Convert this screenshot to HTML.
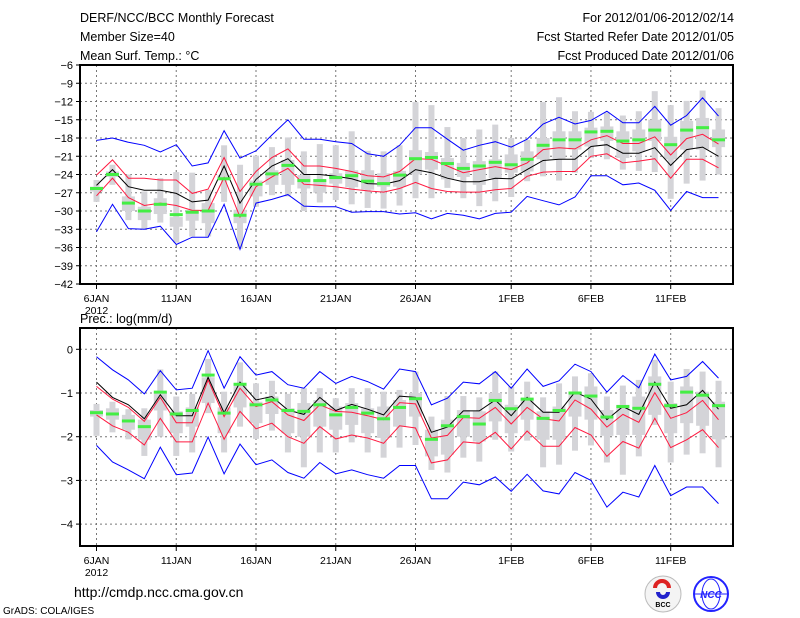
<!DOCTYPE html>
<html><head><meta charset="utf-8">
<style>
html,body{margin:0;padding:0;background:#fff;}
#wrap{position:relative;width:800px;height:618px;overflow:hidden;}
svg text{font-family:"Liberation Sans",sans-serif;}
</style></head>
<body>
<div id="wrap">
<svg id="svg" width="800" height="618" viewBox="0 0 800 618" xmlns="http://www.w3.org/2000/svg">
  <g font-size="12.5" fill="#000">
    <text x="80" y="22">DERF/NCC/BCC Monthly Forecast</text>
    <text x="80" y="41">Member Size=40</text>
    <text x="80" y="60">Mean Surf. Temp.: °C</text>
    <text x="734" y="22" text-anchor="end">For 2012/01/06-2012/02/14</text>
    <text x="734" y="41" text-anchor="end">Fcst Started Refer Date 2012/01/05</text>
    <text x="734" y="60" text-anchor="end">Fcst Produced Date 2012/01/06</text>
  </g>
  <text x="80" y="323" font-size="12.5">Prec.: log(mm/d)</text>
  <g id="top"></g>
  <g id="bot"></g>
  <text x="74" y="597" font-size="14">http://cmdp.ncc.cma.gov.cn</text>
  <text x="3" y="614" font-size="10">GrADS: COLA/IGES</text>
  <g>
    <circle cx="663" cy="594" r="18" fill="#f4f4f4" stroke="#bbb"/>
    <path d="M655 588 a7 7 0 1 1 14 0" fill="none" stroke="#d22" stroke-width="4"/>
    <path d="M658 592 a5 5 0 1 0 10 0" fill="none" stroke="#22c" stroke-width="4"/>
    <text x="663" y="607" font-size="7" text-anchor="middle" font-weight="bold">BCC</text>
  </g>
  <g>
    <circle cx="711" cy="594" r="17" fill="#fff" stroke="#22f" stroke-width="2"/>
    <ellipse cx="711" cy="594" rx="9" ry="15" fill="none" stroke="#22f"/>
    <line x1="695" y1="594" x2="727" y2="594" stroke="#22f"/>
    <text x="711" y="598" font-size="10" text-anchor="middle" fill="#22f" font-weight="bold" font-style="italic">NCC</text>
  </g>
</svg>
</div>
<script>
// ---- Temperature panel data (°C) ----
const days = ["6JAN","","","","","11JAN","","","","","16JAN","","","","","21JAN","","","","","26JAN","","","","","","1FEB","","","","","6FEB","","","","","11FEB","","",""];
const tTicks = [-6,-9,-12,-15,-18,-21,-24,-27,-30,-33,-36,-39,-42];
const tBlueHi = [-18.4,-18.0,-18.7,-19.2,-20.3,-19.1,-22.6,-22.1,-16.8,-21.3,-20.1,-17.5,-15.0,-18.2,-18.2,-18.6,-18.9,-20.6,-21.0,-19.2,-16.3,-16.3,-18.2,-20.0,-19.2,-18.6,-19.5,-18.2,-15.7,-14.6,-15.7,-15.1,-13.6,-15.5,-15.5,-12.8,-15.9,-14.3,-11.4,-14.4];
const tRedHi = [-24.1,-21.6,-24.6,-24.6,-24.9,-24.9,-27.1,-26.4,-21.2,-26.8,-23.5,-21.2,-19.8,-22.6,-22.6,-23.0,-23.5,-24.2,-24.4,-23.5,-21.4,-21.5,-22.6,-23.7,-23.2,-22.7,-23.2,-22.1,-19.9,-19.6,-19.8,-18.3,-17.6,-18.9,-18.9,-17.8,-20.8,-18.1,-17.4,-19.0];
const tMean = [-25.8,-23.2,-26.0,-26.6,-26.6,-27.1,-28.5,-28.2,-22.6,-28.7,-24.8,-22.6,-21.4,-24.0,-24.0,-24.3,-24.7,-25.5,-25.6,-25.0,-23.2,-23.7,-24.6,-25.2,-25.2,-24.6,-24.7,-23.2,-21.7,-21.5,-21.5,-19.4,-19.1,-20.5,-20.5,-19.6,-22.5,-19.9,-19.5,-21.0];
const tRedLo = [-27.5,-24.6,-27.8,-29.1,-28.7,-29.1,-29.9,-29.9,-24.5,-31.0,-26.0,-24.4,-23.0,-25.6,-25.8,-26.0,-26.4,-26.7,-26.9,-26.3,-25.3,-26.3,-26.8,-26.9,-26.9,-26.5,-26.3,-24.3,-23.6,-23.5,-23.5,-21.0,-20.6,-22.1,-21.8,-21.4,-24.6,-21.5,-21.5,-22.9];
const tBlueLo = [-33.4,-28.9,-32.9,-33.0,-32.5,-35.5,-34.3,-34.3,-28.9,-36.3,-28.7,-28.1,-27.3,-29.2,-29.3,-29.3,-30.2,-30.1,-30.1,-30.5,-30.3,-31.3,-30.4,-30.7,-31.3,-30.4,-30.2,-27.6,-28.3,-29.0,-27.7,-24.2,-24.2,-25.7,-25.4,-26.6,-29.9,-26.8,-27.8,-27.8];
const tObs = [-26.3,-24.0,-28.7,-30.0,-28.9,-30.6,-30.2,-30.0,-24.7,-30.7,-25.6,-23.9,-22.5,-25.0,-25.0,-24.5,-24.2,-25.1,-25.5,-24.1,-21.4,-21.2,-22.2,-23.0,-22.6,-22.0,-22.4,-21.5,-19.2,-18.3,-18.3,-17.0,-16.9,-18.5,-18.3,-16.7,-19.1,-16.7,-16.3,-18.3];
const tMax = [-24.9,-22.4,-24.0,-26.8,-24.6,-23.6,-23.7,-26.5,-19.2,-22.4,-20.9,-19.5,-17.9,-20.2,-19.0,-19.2,-16.9,-20.1,-20.2,-19.2,-12.1,-12.6,-16.2,-18.0,-16.6,-15.8,-18.0,-18.3,-12.1,-11.3,-13.6,-13.7,-13.8,-14.3,-13.6,-10.3,-12.6,-11.9,-10.2,-13.1];
const tMin = [-28.5,-25.7,-31.5,-33.0,-31.9,-35.2,-34.2,-34.2,-28.5,-36.2,-29.3,-27.4,-27.6,-30.0,-28.6,-28.2,-28.9,-29.5,-29.6,-29.1,-27.9,-27.9,-26.2,-27.9,-29.2,-28.4,-27.7,-25.1,-24.3,-25.0,-23.7,-21.3,-21.5,-23.2,-23.4,-23.6,-28.0,-25.5,-25.0,-24.0];
const tQ3 = [-26.0,-23.5,-27.6,-29.3,-27.9,-31.0,-29.8,-28.7,-24.1,-29.8,-25.0,-23.3,-21.6,-24.1,-24.9,-23.8,-23.3,-23.3,-23.8,-23.4,-20.0,-20.3,-21.3,-22.1,-21.8,-21.5,-20.7,-20.2,-18.0,-16.9,-16.9,-16.3,-16.1,-16.9,-16.6,-15.0,-17.8,-15.2,-14.7,-16.6];
const tQ1 = [-26.8,-24.4,-30.0,-31.5,-30.5,-32.6,-31.6,-32.0,-24.9,-32.0,-27.6,-25.7,-25.7,-26.3,-27.0,-25.5,-26.1,-26.5,-26.0,-26.0,-24.0,-23.2,-24.8,-24.4,-25.7,-24.6,-23.7,-23.5,-21.5,-21.5,-19.9,-19.4,-18.5,-21.3,-20.2,-18.5,-21.5,-19.9,-19.9,-19.5];

// ---- Precipitation panel data (log mm/d) ----
const pTicks = [0,-1,-2,-3,-4];
const pBlueHi = [-0.17,-0.47,-0.70,-1.02,-0.49,-0.93,-0.89,-0.03,-0.89,-0.17,-0.59,-0.51,-0.81,-0.89,-0.51,-0.78,-0.62,-0.74,-0.91,-0.45,-0.51,-1.27,-1.12,-0.75,-0.79,-0.51,-0.89,-0.45,-0.85,-0.72,-0.34,-0.51,-0.98,-0.60,-0.88,-0.11,-0.70,-0.62,-0.28,-0.66];
const pRedHi = [-0.85,-1.14,-1.33,-1.65,-1.10,-1.68,-1.68,-0.70,-1.54,-0.89,-1.31,-1.20,-1.50,-1.63,-1.27,-1.42,-1.44,-1.52,-1.61,-1.22,-1.25,-2.03,-1.97,-1.56,-1.58,-1.33,-1.71,-1.33,-1.59,-1.64,-1.16,-1.37,-1.78,-1.49,-1.67,-0.99,-1.58,-1.45,-1.17,-1.61];
const pMean = [-0.75,-1.10,-1.27,-1.59,-1.04,-1.52,-1.52,-0.64,-1.45,-0.75,-1.16,-1.08,-1.39,-1.49,-1.10,-1.40,-1.26,-1.37,-1.50,-1.07,-1.10,-1.90,-1.78,-1.41,-1.41,-1.16,-1.52,-1.10,-1.44,-1.44,-0.98,-1.14,-1.61,-1.31,-1.49,-0.75,-1.35,-1.27,-0.94,-1.37];
const pRedLo = [-1.50,-1.75,-1.90,-2.19,-1.58,-2.12,-2.12,-1.23,-2.06,-1.42,-1.82,-1.69,-2.00,-2.15,-1.77,-2.05,-1.96,-2.03,-2.15,-1.75,-1.80,-2.60,-2.53,-2.12,-2.15,-1.90,-2.28,-1.87,-2.22,-2.22,-1.79,-1.96,-2.45,-2.11,-2.26,-1.58,-2.25,-2.07,-1.84,-2.25];
const pBlueLo = [-2.20,-2.58,-2.76,-2.96,-2.24,-2.87,-2.83,-2.01,-2.85,-2.17,-2.64,-2.53,-2.82,-2.95,-2.59,-2.85,-2.76,-2.87,-2.95,-2.66,-2.66,-3.42,-3.42,-3.04,-3.10,-2.92,-3.25,-2.86,-3.24,-3.31,-2.82,-3.00,-3.61,-3.27,-3.38,-2.66,-3.35,-3.15,-3.15,-3.53];
const pObs = [-1.45,-1.48,-1.64,-1.77,-0.98,-1.48,-1.40,-0.59,-1.46,-0.80,-1.27,-1.16,-1.40,-1.42,-1.27,-1.50,-1.33,-1.46,-1.59,-1.33,-1.13,-2.06,-1.75,-1.54,-1.71,-1.17,-1.36,-1.14,-1.58,-1.40,-1.00,-1.07,-1.55,-1.31,-1.35,-0.80,-1.29,-0.98,-1.05,-1.29];
const pMax = [-1.25,-1.20,-1.37,-1.35,-0.46,-1.08,-1.02,-0.22,-0.97,-0.30,-0.78,-0.72,-1.02,-0.89,-0.89,-1.12,-0.89,-0.89,-0.97,-0.93,-0.51,-1.54,-1.07,-1.07,-1.10,-0.51,-0.85,-0.74,-1.10,-0.78,-0.62,-0.55,-1.08,-0.83,-0.70,-0.24,-0.74,-0.45,-0.51,-0.72];
const pMin = [-1.98,-1.90,-2.06,-2.44,-2.00,-2.44,-2.36,-1.46,-2.36,-1.77,-2.05,-1.86,-2.36,-2.70,-2.36,-2.36,-2.13,-2.36,-2.48,-2.25,-2.19,-2.76,-2.82,-2.48,-2.57,-2.07,-2.34,-2.09,-2.70,-2.64,-2.32,-2.20,-2.59,-2.87,-2.45,-1.73,-2.59,-2.41,-2.38,-2.70];
const pQ3 = [-1.39,-1.35,-1.50,-1.61,-0.97,-1.42,-1.33,-0.64,-1.33,-0.78,-1.20,-1.08,-1.35,-1.23,-1.16,-1.31,-1.23,-1.35,-1.31,-1.16,-1.00,-1.84,-1.61,-1.39,-1.42,-1.00,-1.27,-1.12,-1.42,-1.31,-0.97,-0.85,-1.39,-1.27,-1.08,-0.62,-1.23,-0.85,-0.97,-1.20];
const pQ1 = [-1.54,-1.61,-1.84,-2.07,-1.40,-1.92,-1.77,-1.23,-1.92,-1.33,-1.69,-1.48,-1.92,-2.00,-1.77,-1.84,-1.73,-1.92,-2.03,-1.77,-1.54,-2.45,-2.41,-2.00,-2.11,-1.65,-1.92,-1.61,-2.07,-2.07,-1.54,-1.61,-1.98,-1.96,-1.96,-1.50,-1.92,-1.69,-1.75,-2.06];

const NS = "http://www.w3.org/2000/svg";
function mk(tag, attrs, parent){
  const e = document.createElementNS(NS, tag);
  for (const k in attrs) e.setAttribute(k, attrs[k]);
  parent.appendChild(e);
  return e;
}
const X0 = 80, X1 = 733;
function xDay(i){ return 96.5 + i * 15.95; }

function drawPanel(g, yTop, yBot, yScale, ticks, s, panelName){
  ticks.forEach((t) => {
    const y = yScale(t);
    if (y > yTop + 1 && y < yBot - 1) {
      const gl = mk("line", {x1:X0, x2:X1, y1:y, y2:y, stroke:"#777", "stroke-dasharray":"2,3", "stroke-width":1}, g);
      
      
    }
    const tk = mk("line", {x1:X0-4, x2:X0, y1:y, y2:y, stroke:"#000"}, g);
    
    
    const tx = mk("text", {x:X0-7, y:y+4, "font-size":11, "text-anchor":"end"}, g);
    tx.textContent = String(t).replace("-", "−");
    
    
  });
  days.forEach((d, i) => {
    if (!d) return;
    const x = xDay(i);
    const gl = mk("line", {x1:x, x2:x, y1:yTop, y2:yBot, stroke:"#777", "stroke-dasharray":"2,3"}, g);
    
    
    const tk = mk("line", {x1:x, x2:x, y1:yBot, y2:yBot+5, stroke:"#000"}, g);
    
    
    const tx = mk("text", {x:x, y:yBot+18, "font-size":10.5, "text-anchor":"middle"}, g);
    tx.textContent = d;
    
    
  });
  const yr = mk("text", {x:xDay(0), y:yBot+30, "font-size":10.5, "text-anchor":"middle"}, g);
  yr.textContent = "2012";
  
  
  s.max.forEach((v, i) => {
    const x = xDay(i);
    const w = mk("rect", {x:x-3, y:yScale(v), width:6, height:yScale(s.min[i])-yScale(v), fill:"#d4d4d8"}, g);
    
    
    const b = mk("rect", {x:x-6.5, y:yScale(s.q3[i]), width:13, height:Math.max(1, yScale(s.q1[i])-yScale(s.q3[i])), fill:"#d4d4d8"}, g);
    
    
  });
  const lines = [[s.blueHi,"#0000ff","upper-bound-line"],[s.blueLo,"#0000ff","lower-bound-line"],[s.redHi,"#ff1a40","upper-spread-line"],[s.redLo,"#ff1a40","lower-spread-line"],[s.mean,"#000","ensemble-mean-line"]];
  lines.forEach(([arr, col, nm]) => {
    const pts = arr.map((v, i) => xDay(i).toFixed(1) + "," + yScale(v).toFixed(1)).join(" ");
    const pl = mk("polyline", {points:pts, fill:"none", stroke:col, "stroke-width":1}, g);
    
    
  });
  s.obs.forEach((v, i) => {
    const r = mk("rect", {x:xDay(i)-6.5, y:yScale(v)-1.5, width:13, height:3, fill:"#44ee44"}, g);
    
    
  });
  const fr = mk("rect", {x:X0, y:yTop, width:X1-X0, height:yBot-yTop, fill:"none", stroke:"#000", "stroke-width":2}, g);
  
  
}

const tTop = 65, tBot = 284;
drawPanel(document.getElementById("top"), tTop, tBot, v => tTop + (-6 - v) / 36 * (tBot - tTop), tTicks,
  {blueHi:tBlueHi, redHi:tRedHi, mean:tMean, redLo:tRedLo, blueLo:tBlueLo, obs:tObs, max:tMax, min:tMin, q3:tQ3, q1:tQ1}, "temperature");
drawPanel(document.getElementById("bot"), 328, 546, v => 349.3 - v * 43.7, pTicks,
  {blueHi:pBlueHi, redHi:pRedHi, mean:pMean, redLo:pRedLo, blueLo:pBlueLo, obs:pObs, max:pMax, min:pMin, q3:pQ3, q1:pQ1}, "precipitation");
</script>
</body></html>
